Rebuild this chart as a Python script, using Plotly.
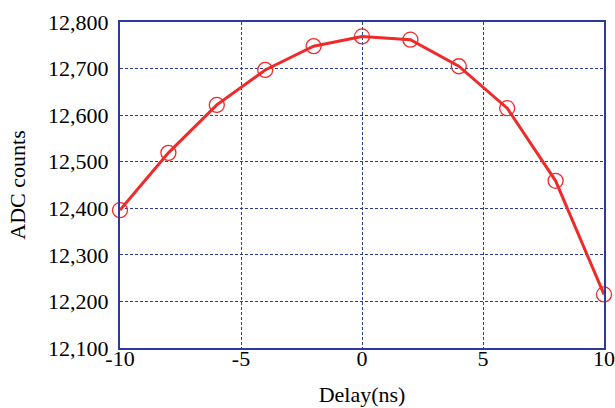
import plotly.graph_objects as go

delay_ns = [-10, -8, -6, -4, -2, 0, 2, 4, 6, 8, 10]
adc_counts = [12396, 12519, 12622, 12697, 12748, 12769, 12762, 12705, 12615, 12459, 12215]
x_ticks = [-10, -5, 0, 5, 10]
y_ticks = [12100, 12200, 12300, 12400, 12500, 12600, 12700, 12800]

navy = "#2b3a9c"
red = "#ee2a2a"
font = "Liberation Serif"

fig = go.Figure(go.Scatter(
    x=delay_ns, y=adc_counts, mode="lines+markers",
    line=dict(color=red, width=3),
    marker=dict(symbol="circle-open", size=15, color=red, line=dict(width=1.3, color=red)),
    cliponaxis=False,
))

fig.update_layout(
    width=615, height=408,
    margin=dict(l=120, r=11, t=22, b=60),
    paper_bgcolor="white", plot_bgcolor="white",
    showlegend=False,
    font=dict(family=font, size=22, color="black"),
)
fig.update_xaxes(
    range=[-10, 10], tickvals=x_ticks, ticktext=[str(v) for v in x_ticks],
    showgrid=True, gridcolor=navy, griddash="3px,2px", gridwidth=1,
    showline=True, linecolor=navy, linewidth=2, mirror=True,
    ticks="", zeroline=False, ticklabelstandoff=-10, automargin=False,
    ticklabeloverflow="allow",
    title=dict(text="Delay(ns)", font=dict(family=font, size=22), standoff=16),
    tickfont=dict(family=font, size=22),
)
fig.update_yaxes(
    range=[12100, 12800], tickvals=y_ticks, ticktext=[f"{v:,}" for v in y_ticks],
    showgrid=True, gridcolor=navy, griddash="3px,2px", gridwidth=1,
    showline=True, linecolor=navy, linewidth=2, mirror=True,
    ticks="", zeroline=False, ticklabelstandoff=5, automargin=False,
    ticklabeloverflow="allow",
    title=dict(text="ADC counts", font=dict(family=font, size=22), standoff=16),
    tickfont=dict(family=font, size=22),
)

fig.write_html("out.html", config={"displayModeBar": False},
               post_script="document.body.style.margin='0';document.body.style.overflow='hidden';")
